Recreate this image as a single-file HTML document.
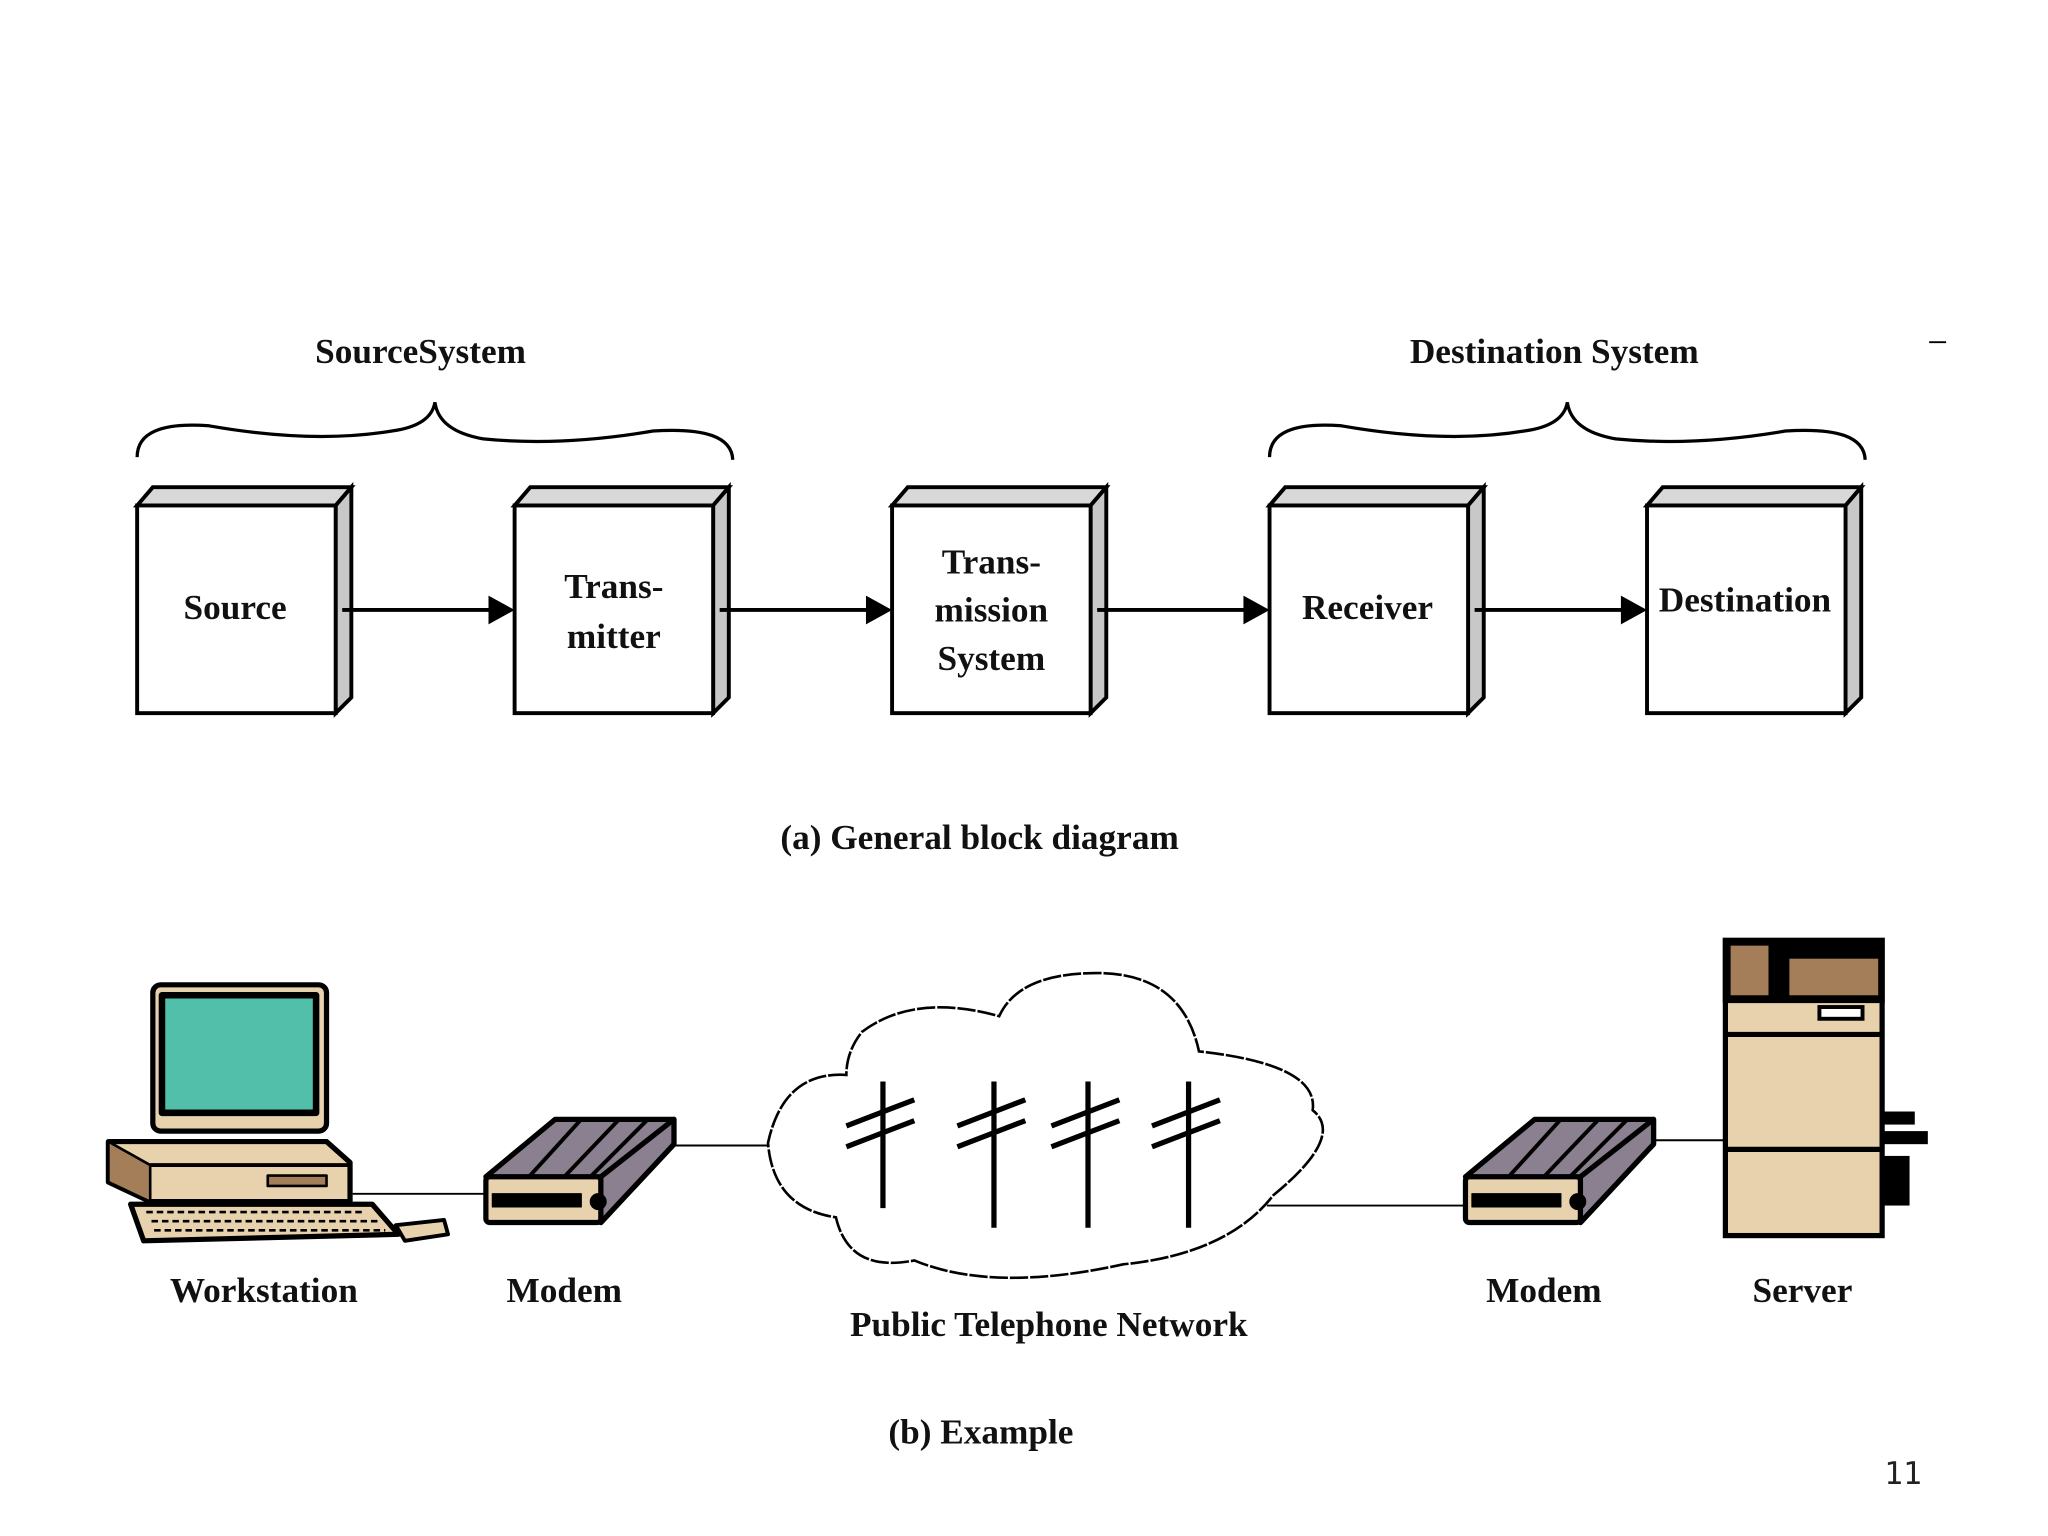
<!DOCTYPE html>
<html><head><meta charset="utf-8"><style>
html,body{margin:0;padding:0;background:#fff;}
svg{display:block;}
text{font-family:"Liberation Serif",serif;font-weight:bold;fill:#111;}
</style></head><body>
<svg width="2048" height="1536" viewBox="0 0 1568 1176" preserveAspectRatio="none" xmlns="http://www.w3.org/2000/svg">
<rect width="1568" height="1176" fill="#fff"/>
<text x="322" y="278" font-size="27" text-anchor="middle">SourceSystem</text>
<text x="1190" y="278" font-size="27" text-anchor="middle">Destination System</text>
<line x1="1477" y1="262" x2="1490" y2="262" stroke="#000" stroke-width="1.5"/>
<path d="M105,350 Q105,322 160,326 Q240,340 300,330 Q330,326 333,308 Q336,330 370,336 Q430,342 500,330 Q560,326 561,352" fill="none" stroke="#000" stroke-width="2.5"/>
<path d="M972,350 Q972,322 1027,326 Q1107,340 1167,330 Q1197,326 1200,308 Q1203,330 1237,336 Q1297,342 1367,330 Q1427,326 1428,352" fill="none" stroke="#000" stroke-width="2.5"/>
<g stroke="#000" stroke-width="3">
<g id="b1">
<polygon points="105,387 117,373 269,373 257,387" fill="#d8d8d8"/>
<polygon points="257,387 269,373 269,534 257,546" fill="#c8c8c8"/>
<rect x="105" y="387" width="152" height="159" fill="#fff"/>
</g>
<use href="#b1" x="289"/>
<use href="#b1" x="578"/>
<use href="#b1" x="867"/>
<use href="#b1" x="1156"/>
</g>
<g font-size="27" text-anchor="middle">
<text x="180" y="474">Source</text>
<text x="470" y="458">Trans-</text>
<text x="470" y="496">mitter</text>
<text x="759" y="439">Trans-</text>
<text x="759" y="476">mission</text>
<text x="759" y="513">System</text>
<text x="1047" y="474">Receiver</text>
<text x="1336" y="468">Destination</text>
</g>
<g stroke="#000" stroke-width="3">
<line x1="262" y1="467" x2="378" y2="467"/>
<line x1="551" y1="467" x2="667" y2="467"/>
<line x1="840" y1="467" x2="956" y2="467"/>
<line x1="1129" y1="467" x2="1245" y2="467"/>
</g>
<g fill="#000">
<polygon points="374,456 394,467 374,478"/>
<polygon points="663,456 683,467 663,478"/>
<polygon points="952,456 972,467 952,478"/>
<polygon points="1241,456 1261,467 1241,478"/>
</g>
<text x="750" y="650" font-size="27" text-anchor="middle">(a) General block diagram</text>
<g stroke="#000" stroke-width="1.5">
<line x1="270" y1="914" x2="372" y2="914"/>
<line x1="517" y1="877" x2="588" y2="877"/>
<line x1="970" y1="923" x2="1122" y2="923"/>
<line x1="1266" y1="873" x2="1322" y2="873"/>
</g>
<g stroke="#000" stroke-width="4" stroke-linejoin="round">
<rect x="117" y="754" width="133" height="112" rx="6" fill="#e8d2ae"/>
<rect x="124" y="762" width="118" height="90" fill="#52bfaa" stroke-width="5"/>
<polygon points="83,874 250,874 268,890 268,920 115,920 83,905" fill="#e8d2ae"/>
<polygon points="83,874 115,892 115,920 83,905" fill="#a47e58" stroke-width="2"/>
<line x1="115" y1="892" x2="268" y2="892" stroke-width="3"/>
<rect x="205" y="900" width="45" height="8" fill="#a47e58" stroke-width="2"/>
<polygon points="100,922 285,922 305,945 110,950" fill="#e8d2ae"/>
<polygon points="303,938 340,934 343,945 310,950" fill="#e8d2ae" stroke-width="3"/>
</g>
<g stroke="#000" stroke-width="2" stroke-dasharray="5 3">
<line x1="112" y1="928" x2="280" y2="928"/>
<line x1="116" y1="935" x2="290" y2="935"/>
<line x1="118" y1="942" x2="295" y2="942"/>
</g>
<g id="m1" stroke="#000" stroke-width="4" stroke-linejoin="round">
<polygon points="372,901 425,857 516,857 516,876 460,936 460,901" fill="#8a8090"/>
<polygon points="460,901 516,857 516,876 460,936" fill="#8a8090"/>
<rect x="372" y="901" width="88" height="35" rx="3" fill="#e8d2ae"/>
<rect x="377" y="914" width="68" height="10" fill="#000" stroke-width="1"/>
<circle cx="458" cy="920" r="6" fill="#000" stroke-width="1"/>
<line x1="405" y1="901" x2="445" y2="857" stroke-width="3"/>
<line x1="432" y1="901" x2="474" y2="857" stroke-width="3"/>
<line x1="452" y1="901" x2="496" y2="857" stroke-width="3"/>
</g>
<use href="#m1" x="750"/>
<g stroke="#000" stroke-width="4">
<rect x="1321" y="720" width="120" height="226" fill="#e8d2ae"/>
<rect x="1321" y="720" width="120" height="46" fill="#000"/>
<rect x="1325" y="724" width="29" height="38" fill="#a47e58" stroke="none"/>
<rect x="1370" y="734" width="68" height="28" fill="#a47e58" stroke="none"/>
<line x1="1321" y1="792" x2="1441" y2="792" stroke-width="4"/>
<line x1="1321" y1="880" x2="1441" y2="880" stroke-width="4"/>
<rect x="1393" y="771" width="33" height="9" fill="#fff" stroke-width="3"/>
</g>
<g fill="#000">
<rect x="1441" y="851" width="25" height="10"/>
<rect x="1441" y="866" width="35" height="10"/>
<rect x="1441" y="885" width="21" height="38"/>
</g>
<path d="M648,823 Q600,820 588,875 Q592,925 640,932 Q650,975 700,965 Q760,990 860,968 Q940,960 975,915 Q1030,870 1005,850 Q1010,815 918,805 Q905,745 840,745 Q780,745 765,778 Q700,760 660,790 Q648,805 648,823 Z" fill="#fff" stroke="#000" stroke-width="2" stroke-dasharray="14 1.5"/>
<g stroke="#000" stroke-width="4">
<line x1="676" y1="828" x2="676" y2="925"/>
<line x1="648" y1="862" x2="700" y2="842"/>
<line x1="648" y1="878" x2="700" y2="858"/>
<line x1="761" y1="828" x2="761" y2="940"/>
<line x1="733" y1="862" x2="785" y2="842"/>
<line x1="733" y1="878" x2="785" y2="858"/>
<line x1="833" y1="828" x2="833" y2="940"/>
<line x1="805" y1="862" x2="857" y2="842"/>
<line x1="805" y1="878" x2="857" y2="858"/>
<line x1="910" y1="828" x2="910" y2="940"/>
<line x1="882" y1="862" x2="934" y2="842"/>
<line x1="882" y1="878" x2="934" y2="858"/>
</g>
<g font-size="27" text-anchor="middle">
<text x="202" y="997">Workstation</text>
<text x="432" y="997">Modem</text>
<text x="803" y="1023">Public Telephone Network</text>
<text x="1182" y="997">Modem</text>
<text x="1380" y="997">Server</text>
<text x="751" y="1105">(b) Example</text>
</g>
<text x="1457" y="1136" font-size="24" text-anchor="middle" style="font-family:'DejaVu Sans Mono','Liberation Mono',monospace;font-weight:normal;fill:#222">11</text>
</svg>
</body></html>
